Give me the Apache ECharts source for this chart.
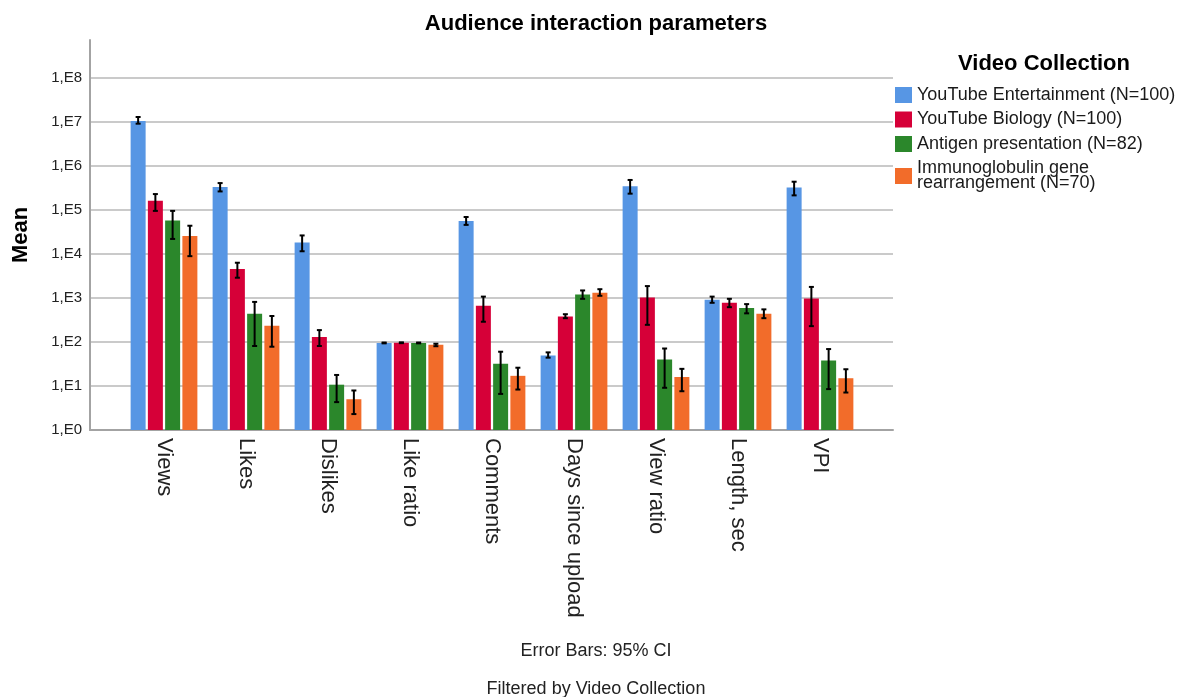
<!DOCTYPE html>
<html>
<head>
<meta charset="utf-8">
<script src="https://cdn.jsdelivr.net/npm/echarts@6/dist/echarts.min.js"></script>
<style>html,body{margin:0;padding:0;background:#fff;}#chart{width:1186px;height:697px;}</style>
</head>
<body>
<div id="chart"></div>
<script>
// ---------- DATA ----------
const categories = ['Views', 'Likes', 'Dislikes', 'Like ratio', 'Comments', 'Days since upload', 'View ratio', 'Length, sec', 'VPI'];
const seriesNames = ['YouTube Entertainment (N=100)', 'YouTube Biology (N=100)', 'Antigen presentation (N=82)', 'Immunoglobulin gene rearrangement (N=70)'];

const entMean = [1.05e7, 3.31e5, 1.82e4, 95, 5.6e4, 49, 3.47e5, 912, 3.24e5];
const entLow  = [9.1e6, 2.63e5, 1.15e4, 93, 4.57e4, 44, 2.34e5, 776, 2.14e5];
const entHigh = [1.29e7, 4.07e5, 2.63e4, 97, 6.9e4, 58, 4.79e5, 1072, 4.37e5];

const bioMean = [1.62e5, 4570, 129, 96, 661, 380, 1020, 776, 977];
const bioLow  = [9.5e4, 2880, 81, 94, 288, 347, 245, 617, 229];
const bioHigh = [2.29e5, 6310, 186, 98, 1072, 427, 1860, 955, 1780];

const antMean = [5.75e4, 437, 10.7, 95, 32, 1200, 40, 589, 38];
const antLow  = [2.19e4, 81, 4.3, 93, 6.6, 955, 9.1, 447, 8.5];
const antHigh = [9.5e4, 813, 17.8, 97, 60, 1480, 71, 724, 69];

const igMean = [2.57e4, 234, 5.0, 86, 17, 1320, 16, 437, 15];
const igLow  = [8.9e3, 78, 2.3, 80, 8.3, 1120, 7.6, 347, 7.1];
const igHigh = [4.37e4, 389, 7.9, 91, 26, 1580, 24.5, 550, 24];

const yTickExponents = [0, 1, 2, 3, 4, 5, 6, 7, 8];

// ---------- STYLE ----------
const colors = ['#5796E4', '#D60038', '#2B872B', '#F26C2A'];
const FONT = "'Liberation Sans', Arial, sans-serif";
const BAR_W = 15;
const BAR_GAP = 0.15;
const Y_MIN = 1;
const Y_MAX = Math.pow(10, 8.86);

const means = [entMean, bioMean, antMean, igMean];
const lows = [entLow, bioLow, antLow, igLow];
const highs = [entHigh, bioHigh, antHigh, igHigh];

function yLabel(v) {
  const e = Math.log10(v);
  const r = Math.round(e);
  if (Math.abs(e - r) < 1e-6 && yTickExponents.indexOf(r) >= 0) return '1,E' + r;
  return '';
}

const barSeries = seriesNames.map((name, k) => ({
  name: name,
  type: 'bar',
  xAxisIndex: 1,
  yAxisIndex: 1,
  barWidth: BAR_W,
  barGap: (BAR_GAP * 100) + '%',
  itemStyle: { color: colors[k] },
  data: means[k]
}));

const errSeries = seriesNames.map((name, k) => ({
  name: name + ' CI',
  type: 'custom',
  xAxisIndex: 1,
  yAxisIndex: 1,
  z: 10,
  encode: { x: 0, y: [1, 2] },
  data: categories.map((c, i) => [i, lows[k][i], highs[k][i]]),
  renderItem: function (params, api) {
    const step = BAR_W * (1 + BAR_GAP);
    const off = (k - 1.5) * step;
    const pLo = api.coord([api.value(0), api.value(1)]);
    const pHi = api.coord([api.value(0), api.value(2)]);
    const x = pLo[0] + off;
    const cap = 2.5;
    const st = { stroke: '#000', lineWidth: 2 };
    return {
      type: 'group',
      children: [
        { type: 'line', shape: { x1: x, y1: pLo[1], x2: x, y2: pHi[1] }, style: st },
        { type: 'line', shape: { x1: x - cap, y1: pLo[1], x2: x + cap, y2: pLo[1] }, style: st },
        { type: 'line', shape: { x1: x - cap, y1: pHi[1], x2: x + cap, y2: pHi[1] }, style: st }
      ]
    };
  }
}));

const chart = echarts.init(document.getElementById('chart'), null, { renderer: 'canvas' });
chart.setOption({
  animation: false,
  backgroundColor: '#fff',
  textStyle: { fontFamily: FONT },
  title: [
    { text: 'Audience interaction parameters', left: 591, top: 8, textAlign: 'center',
      textStyle: { fontFamily: FONT, fontSize: 22, fontWeight: 'bold', color: '#000' } },
    { text: 'Video Collection', left: 1039, top: 48, textAlign: 'center',
      textStyle: { fontFamily: FONT, fontSize: 22, fontWeight: 'bold', color: '#000' } },
    { text: 'Error Bars: 95% CI', left: 591, top: 637, textAlign: 'center',
      textStyle: { fontFamily: FONT, fontSize: 18, fontWeight: 'normal', color: '#222' } },
    { text: 'Filtered by Video Collection', left: 591, top: 675, textAlign: 'center',
      textStyle: { fontFamily: FONT, fontSize: 18, fontWeight: 'normal', color: '#222' } }
  ],
  legend: {
    orient: 'vertical',
    left: 895,
    top: 86,
    padding: 0,
    itemWidth: 17,
    itemHeight: 16,
    itemGap: 6.5,
    icon: 'rect',
    data: seriesNames,
    formatter: function (n) { return n === seriesNames[3] ? 'Immunoglobulin gene\nrearrangement (N=70)' : n; },
    textStyle: { fontFamily: FONT, fontSize: 18, color: '#1a1a1a', lineHeight: 15 }
  },
  grid: [
    { left: 90, right: 293, top: 40, bottom: 267, outerBoundsMode: 'none', containLabel: false },
    { left: 123, right: 325, top: 40, bottom: 267, outerBoundsMode: 'none', containLabel: false }
  ],
  xAxis: [
    { type: 'category', gridIndex: 0, data: categories,
      axisLine: { lineStyle: { color: '#a3a3a3', width: 2 } },
      axisTick: { show: false }, axisLabel: { show: false }, splitLine: { show: false } },
    { type: 'category', gridIndex: 1, data: categories,
      axisLine: { show: false }, axisTick: { show: false },
      axisLabel: { rotate: -90, margin: 8, fontFamily: FONT, fontSize: 22, color: '#222', interval: 0 } }
  ],
  yAxis: [
    { type: 'log', gridIndex: 0, logBase: 10, min: Y_MIN, max: Y_MAX,
      name: 'Mean', nameLocation: 'middle', nameRotate: 90, nameGap: 58,
      nameTextStyle: { fontFamily: FONT, fontSize: 22, fontWeight: 'bold', color: '#000' },
      axisLine: { show: true, lineStyle: { color: '#a3a3a3', width: 2 } },
      axisTick: { show: false },
      axisLabel: { formatter: yLabel, margin: 8, fontFamily: FONT, fontSize: 15, color: '#222' },
      splitLine: { show: true, showMinLine: false, showMaxLine: false, lineStyle: { color: '#cacaca', width: 2 } } },
    { type: 'log', gridIndex: 1, logBase: 10, min: Y_MIN, max: Y_MAX,
      axisLine: { show: false }, axisTick: { show: false }, axisLabel: { show: false }, splitLine: { show: false } }
  ],
  series: barSeries.concat(errSeries)
});
</script>
</body>
</html>
